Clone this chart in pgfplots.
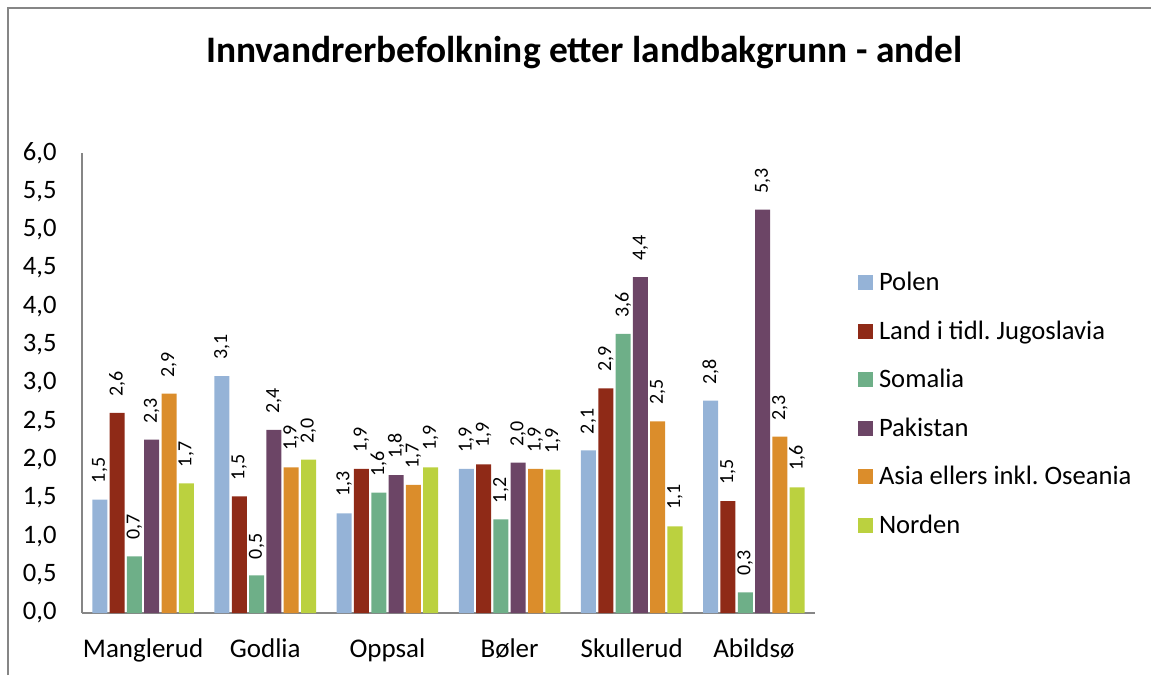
\documentclass[border=0pt]{standalone}
\usepackage{fontspec}
\setmainfont{Carlito}
\usepackage{pgfplots}
\pgfplotsset{compat=1.18}
\definecolor{cPol}{HTML}{95B3D7}
\definecolor{cJug}{HTML}{8F2A17}
\definecolor{cSom}{HTML}{6EAF88}
\definecolor{cPak}{HTML}{6C4566}
\definecolor{cAsi}{HTML}{DB8D2B}
\definecolor{cNor}{HTML}{BBD13F}
\definecolor{axgray}{HTML}{868686}
\frenchspacing
\begin{document}
\begin{tikzpicture}
\useasboundingbox (-41pt,-31pt) rectangle (534.5pt,306.5pt);
\draw[color=axgray, line width=0.75pt] (-37pt,-31pt) -- (-37pt,302.5pt) -- (534.5pt,302.5pt);
\node[anchor=base, font=\fontsize{18.7}{22}\selectfont\bfseries] at (251.25pt,275pt) {Innvandrerbefolkning etter landbakgrunn - andel};
\pgfkeys{/pgf/number format/.cd, fixed, fixed zerofill, precision=1, use comma, assume math mode=true}
\begin{axis}[
  at={(0,0)}, anchor=south west,
  scale only axis, width=366.5pt, height=230pt,
  ybar=1.15pt, bar width=7.5pt,
  xmin=-0.5, xmax=5.5, ymin=0, ymax=6,
  xtick={0,1,2,3,4,5},
  xticklabels={Manglerud,Godlia,Oppsal,Bøler,Skullerud,Abildsø},
  ytick={0,0.5,1,1.5,2,2.5,3,3.5,4,4.5,5,5.5,6},
  axis x line*=bottom, axis y line*=left,
  axis line style={draw=axgray, line width=0.75pt},
  major tick length=0pt,
  tick style={draw=none},
  x tick label style={font=\fontsize{13.5}{15}\selectfont, anchor=base, inner sep=0pt, yshift=-22pt},
  y tick label style={font=\fontsize{13.3}{15}\selectfont, anchor=east, inner sep=0pt, xshift=-12.5pt},
  clip=false,
  nodes near coords,
  every node near coord/.append style={font=\fontsize{10}{12}\selectfont, inner sep=0pt, yshift=8pt, rotate=90, anchor=west},
  legend cell align=left,
  legend style={draw=none, fill=none, inner sep=0pt, outer sep=0pt,
    at={(1.0587,0.7370)}, anchor=north west, row sep=16.0pt,
    font=\fontsize{13.3}{15}\selectfont,
    nodes={inner sep=0pt, text height=8.3pt, text depth=0pt},
    /tikz/every odd column/.style={column sep=3pt}},
  legend image code/.code={\path[#1] (0pt,-3.9pt) rectangle (7.5pt,3.6pt);},
]
\addplot[fill=cPol, draw=none] coordinates {(0,1.48) (1,3.09) (2,1.30) (3,1.88) (4,2.12) (5,2.77)};
\addlegendentry{Polen}
\addplot[fill=cJug, draw=none] coordinates {(0,2.61) (1,1.52) (2,1.88) (3,1.94) (4,2.93) (5,1.46)};
\addlegendentry{Land i tidl. Jugoslavia}
\addplot[fill=cSom, draw=none] coordinates {(0,0.74) (1,0.49) (2,1.57) (3,1.22) (4,3.64) (5,0.27)};
\addlegendentry{Somalia}
\addplot[fill=cPak, draw=none] coordinates {(0,2.26) (1,2.39) (2,1.80) (3,1.96) (4,4.38) (5,5.26)};
\addlegendentry{Pakistan}
\addplot[fill=cAsi, draw=none] coordinates {(0,2.86) (1,1.90) (2,1.67) (3,1.88) (4,2.50) (5,2.30)};
\addlegendentry{Asia ellers inkl. Oseania}
\addplot[fill=cNor, draw=none] coordinates {(0,1.69) (1,2.00) (2,1.90) (3,1.87) (4,1.13) (5,1.64)};
\addlegendentry{Norden}
\end{axis}
\end{tikzpicture}
\end{document}
